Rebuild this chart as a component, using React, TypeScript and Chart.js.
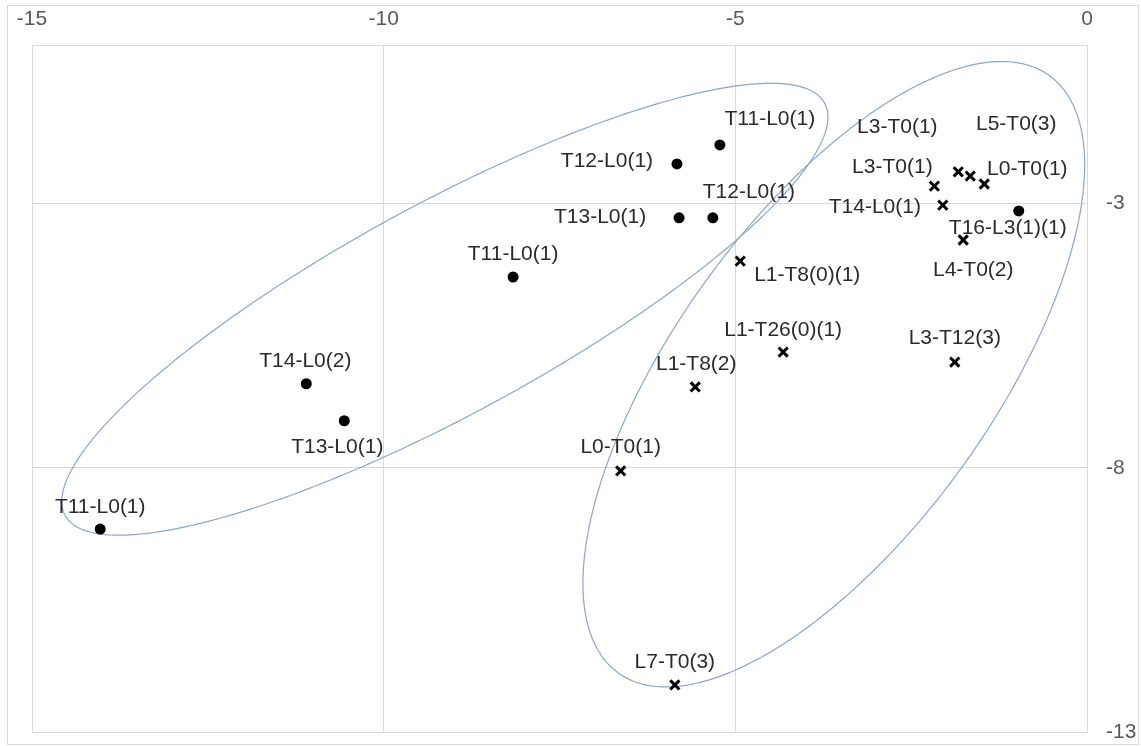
import React, { useEffect, useRef } from "react";
import { Chart, registerables } from "chart.js";

Chart.register(...registerables);

// ---- data ----
const xTicks = [-15, -10, -5, 0];
const yTicks = [-13, -8, -3];

const circleX = [-5.22, -5.83, -5.8, -5.32, -8.16, -11.1, -10.56, -14.03, -0.97];
const circleY = [-1.89, -2.25, -3.27, -3.27, -4.39, -6.41, -7.11, -9.16, -3.14];
const circleLabels = [
  "T11-L0(1)", "T12-L0(1)", "T13-L0(1)", "T12-L0(1)", "T11-L0(1)",
  "T14-L0(2)", "T13-L0(1)", "T11-L0(1)", "T16-L3(1)(1)",
];

const crossX = [-2.17, -1.83, -1.66, -1.46, -2.05, -1.76, -4.93, -4.32, -1.88, -5.57, -6.63, -5.86];
const crossY = [-2.67, -2.4, -2.48, -2.63, -3.03, -3.69, -4.09, -5.81, -6.0, -6.47, -8.06, -12.11];
const crossLabels = [
  "L3-T0(1)", "L3-T0(1)", "L5-T0(3)", "L0-T0(1)", "T14-L0(1)", "L4-T0(2)",
  "L1-T8(0)(1)", "L1-T26(0)(1)", "L3-T12(3)", "L1-T8(2)", "L0-T0(1)", "L7-T0(3)",
];

// label placement offsets (px, label centre relative to the point)
const circleLabelOffsets = [
  [50, -26], [-70, -3], [-79, -1], [36, -26], [0, -23], [-1, -23], [-7, 26], [0, -22], [-11, 17],
];
const crossLabelOffsets = [
  [-42, -19], [-61, -45], [46, -52], [43, -15], [-68, 2], [10, 30],
  [67, 14], [0, -22], [0, -24], [1, -23], [0, -24], [0, -23],
];

// grouping ellipses: centre and semi-axis vectors in data units
const ellipseCenterX = [-9.13, -3.6];
const ellipseCenterY = [-5.0, -6.23];
const ellipseAxisA = [[5.4, 3.9], [3.064, 5.652]];
const ellipseAxisB = [[0.715, -1.752], [1.826, -1.752]];

const FONT = "'Liberation Sans', Arial, sans-serif";

const decorPlugin = {
  id: "decor",
  beforeDraw(chart: any) {
    const ctx = chart.ctx;
    ctx.save();
    ctx.fillStyle = "#ffffff";
    ctx.fillRect(0, 0, chart.width, chart.height);
    ctx.strokeStyle = "#d9d9d9";
    ctx.lineWidth = 1;
    ctx.strokeRect(7.5, 5.5, chart.width - 10, chart.height - 7);
    ctx.restore();
  },
  beforeDatasetsDraw(chart: any) {
    const { ctx } = chart;
    const xs = chart.scales.x;
    const ys = chart.scales.y;
    ctx.save();
    ctx.strokeStyle = "#8ea6c4";
    ctx.lineWidth = 1.2;
    for (let k = 0; k < ellipseCenterX.length; k++) {
      ctx.beginPath();
      for (let i = 0; i <= 360; i++) {
        const t = (i * Math.PI) / 180;
        const dx = ellipseCenterX[k] + ellipseAxisA[k][0] * Math.cos(t) + ellipseAxisB[k][0] * Math.sin(t);
        const dy = ellipseCenterY[k] + ellipseAxisA[k][1] * Math.cos(t) + ellipseAxisB[k][1] * Math.sin(t);
        const px = xs.getPixelForValue(dx);
        const py = ys.getPixelForValue(dy);
        if (i === 0) ctx.moveTo(px, py);
        else ctx.lineTo(px, py);
      }
      ctx.closePath();
      ctx.stroke();
    }
    ctx.restore();
  },
  afterDatasetsDraw(chart: any) {
    const { ctx } = chart;
    ctx.save();
    ctx.font = `21px ${FONT}`;
    ctx.fillStyle = "#2b2b2b";
    ctx.textAlign = "center";
    ctx.textBaseline = "middle";
    const sets = [
      { idx: 0, labels: circleLabels, offs: circleLabelOffsets },
      { idx: 1, labels: crossLabels, offs: crossLabelOffsets },
    ];
    for (const s of sets) {
      const meta = chart.getDatasetMeta(s.idx);
      meta.data.forEach((el: any, i: number) => {
        const o = s.offs[i] || [0, -22];
        ctx.fillText(s.labels[i], el.x + o[0], el.y + o[1]);
      });
    }
    ctx.restore();
  },
};

export default function App() {
  const ref = useRef<HTMLCanvasElement | null>(null);

  useEffect(() => {
    if (!ref.current) return;
    const chart = new Chart(ref.current, {
      type: "scatter",
      data: {
        datasets: [
          {
            label: "T",
            data: circleX.map((x, i) => ({ x, y: circleY[i] })),
            pointStyle: "circle",
            pointRadius: 5.5,
            pointBackgroundColor: "#000000",
            pointBorderColor: "#000000",
            pointBorderWidth: 0,
            showLine: false,
          },
          {
            label: "L",
            data: crossX.map((x, i) => ({ x, y: crossY[i] })),
            pointStyle: "crossRot",
            pointRadius: 6.5,
            pointBorderColor: "#000000",
            pointBackgroundColor: "#000000",
            pointBorderWidth: 3,
            showLine: false,
          },
        ],
      },
      options: {
        responsive: false,
        animation: false,
        devicePixelRatio: 1,
        layout: { padding: { left: 32, right: 0, top: 0, bottom: 14 } },
        plugins: {
          legend: { display: false },
          tooltip: { enabled: false },
        },
        scales: {
          x: {
            type: "linear",
            position: "top",
            min: -15,
            max: 0,
            afterBuildTicks: (scale: any) => {
              scale.ticks = xTicks.map((v) => ({ value: v }));
            },
            afterFit: (scale: any) => {
              scale.height = 45;
              scale.paddingLeft = 0;
              scale.paddingRight = 0;
            },
            grid: { color: "#d9d9d9", lineWidth: 1, drawTicks: false },
            border: { display: true, color: "#d9d9d9", width: 1 },
            ticks: {
              color: "#595959",
              font: { size: 21, family: FONT },
              padding: 13,
              maxRotation: 0,
              callback: (v: any) => String(v),
            },
          },
          y: {
            type: "linear",
            position: "right",
            min: -13,
            max: 0,
            afterBuildTicks: (scale: any) => {
              scale.ticks = yTicks.map((v) => ({ value: v }));
            },
            afterFit: (scale: any) => {
              scale.width = 54;
              scale.paddingTop = 0;
              scale.paddingBottom = 0;
            },
            grid: { color: "#d9d9d9", lineWidth: 1, drawTicks: false },
            border: { display: true, color: "#d9d9d9", width: 1 },
            ticks: {
              color: "#595959",
              font: { size: 21, family: FONT },
              padding: 19,
              callback: (v: any) => String(v),
            },
          },
        },
      },
      plugins: [decorPlugin],
    });
    return () => chart.destroy();
  }, []);

  return (
    <div style={{ position: "absolute", left: 0, top: 0, width: 1141, height: 746 }}>
      <canvas ref={ref} width={1141} height={746} style={{ display: "block" }} />
    </div>
  );
}
